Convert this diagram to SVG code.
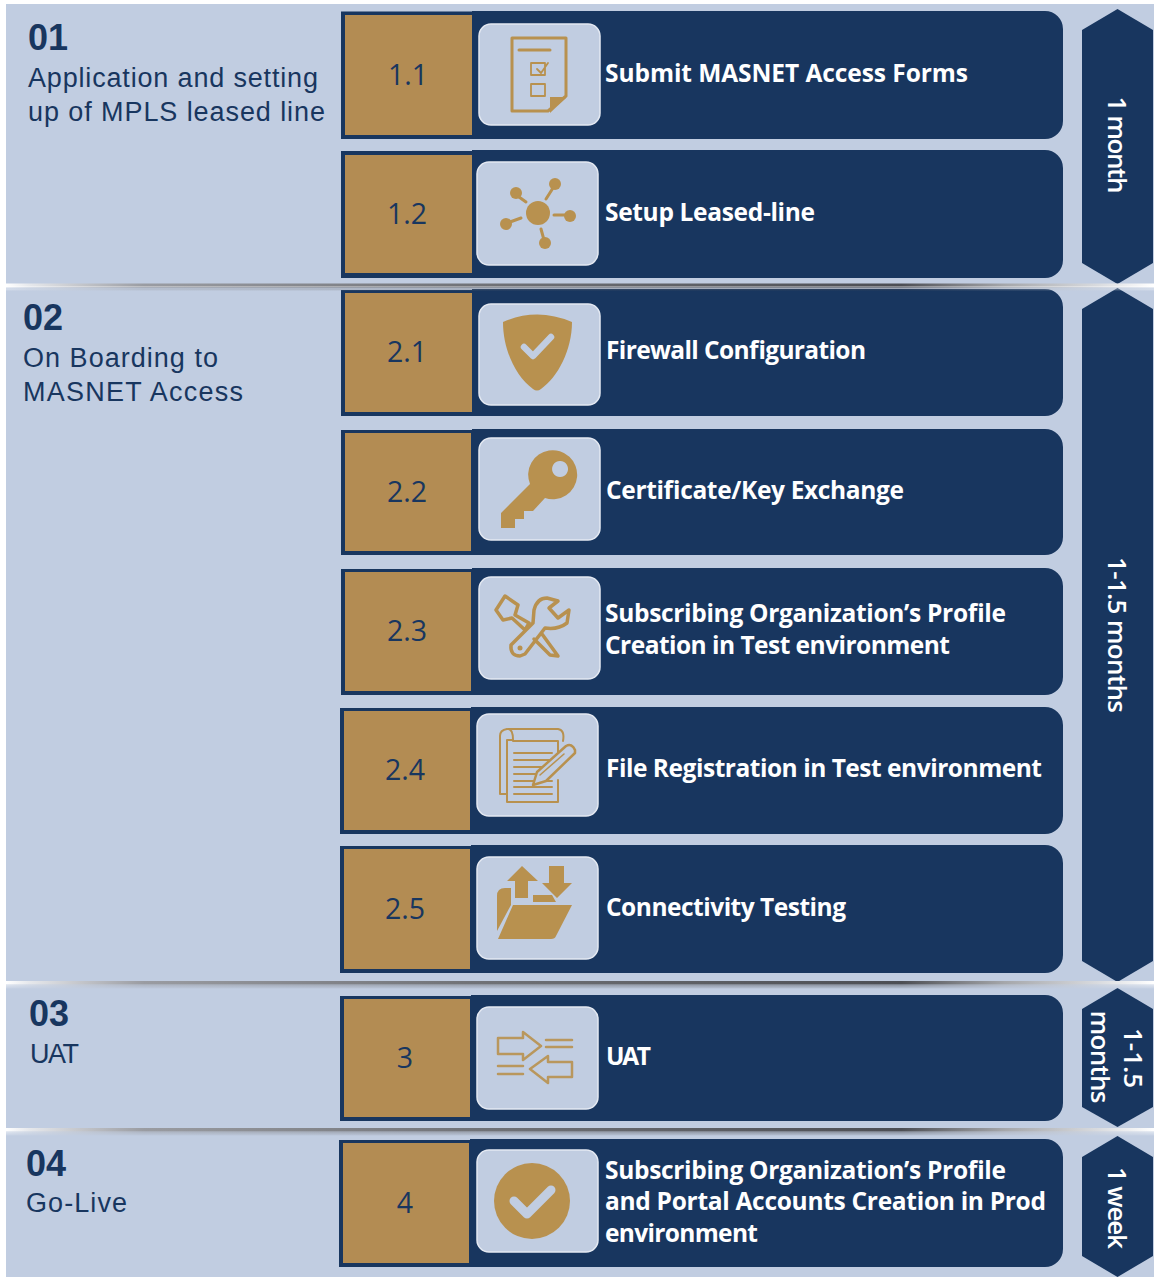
<svg xmlns="http://www.w3.org/2000/svg" width="1154" height="1277" viewBox="0 0 1154 1277">
<style>
.bg{fill:#c1cde1}
.nav{fill:#18365f}
.gold{fill:#b38c53}
.box{fill:#c1cde1;stroke:#e4e9f2;stroke-width:1.5}
.ic{fill:#b8914f}
.il{fill:none;stroke:#b8914f;stroke-width:3;stroke-linejoin:round;stroke-linecap:round}
.num{font-family:"Open Sans","Liberation Sans",sans-serif;font-size:28.500px;fill:#18365f;text-anchor:middle}
.lab{font-family:"Open Sans","Noto Sans",sans-serif;font-weight:700;font-size:24.500px;fill:#fff}
.hd{font-family:"Liberation Sans",Arial,sans-serif;font-weight:700;font-size:36px;fill:#18365f}
.sub{font-family:"Liberation Sans",Arial,sans-serif;font-size:27px;fill:#18365f}
.dur{font-family:"Open Sans","Noto Sans",sans-serif;font-weight:600;font-size:26px;fill:#fff;text-anchor:middle}
</style>
<defs>
<linearGradient id="sep" x1="0" x2="1" y1="0" y2="0"><stop offset="0" stop-color="#fff"/><stop offset=".02" stop-color="#e6e8ec"/><stop offset=".12" stop-color="#9a9ca2"/><stop offset=".4" stop-color="#717378"/><stop offset=".78" stop-color="#4c4e54"/><stop offset=".87" stop-color="#a5a7ab"/><stop offset=".95" stop-color="#d8dade"/><stop offset="1" stop-color="#fff"/></linearGradient>
<g id="sepbar">
<rect x="6" y="0" width="1148" height="3" fill="url(#sep)"/>
<rect x="6" y="3" width="1148" height="1.500" fill="url(#sep)" opacity=".6"/>
<rect x="6" y="4.500" width="1148" height="2" fill="url(#sep)" opacity=".3"/>
<rect x="6" y="6.500" width="1148" height="1" fill="url(#sep)" opacity=".12"/>
</g>
</defs>
<rect width="1154" height="1277" fill="#fff"/>
<g id="panels">
<rect class="bg" x="6" y="4" width="1148" height="280"/>
<rect class="bg" x="6" y="287" width="1148" height="694"/>
<rect class="bg" x="6" y="984" width="1148" height="144"/>
<rect class="bg" x="6" y="1131" width="1148" height="146"/>
</g>
<g id="section-01"><text class="hd" x="28" y="50">01</text><text class="sub" x="28" y="87" textLength="290">Application and setting</text><text class="sub" x="28" y="121" textLength="297">up of MPLS leased line</text></g>
<g id="section-02"><text class="hd" x="23" y="330">02</text><text class="sub" x="23" y="367" textLength="195">On Boarding to</text><text class="sub" x="23" y="401" textLength="220">MASNET Access</text></g>
<g id="section-03"><text class="hd" x="29" y="1026">03</text><text class="sub" x="30" y="1063" textLength="49">UAT</text></g>
<g id="section-04"><text class="hd" x="26" y="1176">04</text><text class="sub" x="26" y="1212" textLength="101">Go-Live</text></g>

<g id="step-1-1">
<path class="nav" d="M341 11.500H472V11H1045a18 18 0 0 1 18 18V121a18 18 0 0 1-18 18H341Z"/>
<rect class="gold" x="345" y="15" width="127" height="120"/><text class="num" x="408" y="84.500">1.1</text>
<rect class="box" x="479" y="24" width="121" height="101" rx="12"/>
<path class="il" d="M512 38H566V96L548 111H512Z"/><path class="ic" d="M566 97V98L550 113V97Z"/>
<path class="il" d="M519 50H550"/><path class="il" style="stroke-width:1.800" d="M531 63H545V75H531Z M537 69L541 73L548 63M531 84H545V96H531Z"/>
<text class="lab" x="605" y="82" textLength="363">Submit MASNET Access Forms</text>
</g>
<g id="step-1-2">
<path class="nav" d="M341 151H472V150H1045a18 18 0 0 1 18 18V260a18 18 0 0 1-18 18H341Z"/>
<rect class="gold" x="345" y="155" width="127" height="118"/><text class="num" x="407" y="223.500">1.2</text>
<rect class="box" x="477" y="162" width="121" height="103" rx="12"/>
<circle class="ic" cx="538" cy="213" r="12"/><circle class="ic" cx="516" cy="193" r="6"/><circle class="ic" cx="555" cy="184" r="6"/><circle class="ic" cx="570" cy="216" r="6"/><circle class="ic" cx="506" cy="224" r="6"/><circle class="ic" cx="545" cy="243" r="6"/>
<path class="il" d="M519 197L526 202M553 188L546 199M554 215H566M510 222L521 218M541 229L544 240"/>
<text class="lab" x="605" y="221" textLength="210">Setup Leased-line</text>
</g>
<g id="step-2-1">
<path class="nav" d="M341 290H472V289H1045a18 18 0 0 1 18 18V398a18 18 0 0 1-18 18H341Z"/>
<rect class="gold" x="345" y="293" width="127" height="119"/><text class="num" x="407" y="362">2.1</text>
<rect class="box" x="479" y="304" width="121" height="101" rx="12"/>
<path class="ic" d="M503 322Q537 307 572 322C572 350 558 377 541 389Q537 392 533 389C516 377 503 350 503 322Z"/>
<path d="M524 347L533 356L551 337" fill="none" stroke="#c1cde1" stroke-width="6.500" stroke-linecap="round" stroke-linejoin="round"/>
<text class="lab" x="606" y="359" textLength="260">Firewall Configuration</text>
</g>
<g id="step-2-2">
<path class="nav" d="M341 430H472V429H1045a18 18 0 0 1 18 18V537a18 18 0 0 1-18 18H341Z"/>
<rect class="gold" x="345" y="433" width="126" height="118"/><text class="num" x="407" y="502">2.2</text>
<rect class="box" x="479" y="438" width="121" height="102" rx="12"/>
<path class="ic" fill-rule="evenodd" d="M501 513L530 484A24.500 24.500 0 1 1 545 498L533 511H524V519H515V528H501Z M560 461a8 8 0 1 0 .1 0Z"/>
<text class="lab" x="606" y="499" textLength="298">Certificate/Key Exchange</text>
</g>
<g id="step-2-3">
<path class="nav" d="M341 569H472V568H1045a18 18 0 0 1 18 18V677a18 18 0 0 1-18 18H341Z"/>
<rect class="gold" x="345" y="572" width="126" height="119"/><text class="num" x="407" y="641">2.3</text>
<rect class="box" x="479" y="577" width="121" height="102" rx="12"/>
<path class="il" style="stroke-width:3.500" d="M496 610L505 596L518 605L515 615L529 623L525 630L512 618L503 620Z"/>
<path class="il" style="stroke-width:3.500" d="M547 598Q537 598 534 610L533 623L511 645Q510 656 520 656L525 654L545 628Q558 630 567 623L569 610L558 618L549 608L558 601Z M542 634L558 656L550 655L534 639"/>
<circle class="ic" cx="520" cy="648" r="2.500"/>
<text class="lab" x="605" y="622" textLength="401">Subscribing Organization’s Profile</text><text class="lab" x="605" y="654" textLength="345">Creation in Test environment</text>
</g>
<g id="step-2-4">
<path class="nav" d="M340 708H471V707H1045a18 18 0 0 1 18 18V816a18 18 0 0 1-18 18H340Z"/>
<rect class="gold" x="344" y="711" width="126" height="119"/><text class="num" x="405" y="780">2.4</text>
<rect class="box" x="477" y="714" width="121" height="102" rx="12"/>
<path class="il" style="stroke-width:2" d="M508 729H558Q565 730 563 741M507 729Q500 730 500 736V794H506M508 729Q513 729 513 740H507M513 741H558V752M507 740V802H558V780"/>
<path class="il" style="stroke-width:2" d="M514 753H552M514 760H552M514 767H552M514 774H552M514 781H552M514 787H552M514 794H552"/>
<path d="M537 772L566 746Q572 743 575 750V753L546 781L533 785Z" fill="#c1cde1" stroke="#b8914f" stroke-width="2.500" stroke-linejoin="round"/>
<path class="il" style="stroke-width:1.500" d="M540 775L564 754"/>
<text class="lab" x="606" y="777" textLength="436">File Registration in Test environment</text>
</g>
<g id="step-2-5">
<path class="nav" d="M340 846H471V845H1045a18 18 0 0 1 18 18V955a18 18 0 0 1-18 18H340Z"/>
<rect class="gold" x="344" y="849" width="126" height="120"/><text class="num" x="405" y="919">2.5</text>
<rect class="box" x="477" y="857" width="121" height="102" rx="12"/>
<path class="ic" d="M497 931V896Q497 888 505 888H511V905Z M498 939L513 905H572L556 936Q555 939 551 939Z M515 898V881H507L522 866L538 881H528V898Z M549 866H564V883H572L557 898L542 883H549Z M533 895H552L556 902H533Z"/>
<text class="lab" x="606" y="916" textLength="240">Connectivity Testing</text>
</g>
<g id="step-3">
<path class="nav" d="M340 996H471V995H1045a18 18 0 0 1 18 18V1103a18 18 0 0 1-18 18H340Z"/>
<rect class="gold" x="344" y="999" width="126" height="118"/><text class="num" x="405" y="1068">3</text>
<rect class="box" x="477" y="1007" width="121" height="102" rx="12"/>
<path class="il" opacity=".9" style="stroke-width:2.500" d="M498 1038H523V1032L541 1046L523 1060V1054H498Z M572 1062H548V1056L530 1069L548 1083V1077H572Z"/>
<path class="il" opacity=".9" style="stroke-width:2.500" d="M546 1040H572M546 1047H572M498 1066H523M498 1074H523"/>
<text class="lab" x="606" y="1065" textLength="45">UAT</text>
</g>
<g id="step-4">
<path class="nav" d="M339 1140H470V1139H1045a18 18 0 0 1 18 18V1249a18 18 0 0 1-18 18H339Z"/>
<rect class="gold" x="343" y="1143" width="126" height="120"/><text class="num" x="405" y="1213">4</text>
<rect class="box" x="477" y="1150" width="121" height="102" rx="12"/>
<circle class="ic" cx="532" cy="1201" r="38"/>
<path d="M514 1201L527 1214L551 1190" fill="none" stroke="#c1cde1" stroke-width="9" stroke-linecap="round" stroke-linejoin="round"/>
<text class="lab" x="605" y="1179" textLength="401">Subscribing Organization’s Profile</text><text class="lab" x="605" y="1210" textLength="441">and Portal Accounts Creation in Prod</text><text class="lab" x="605" y="1242" textLength="153">environment</text>
</g>
<g id="duration-1"><path class="nav" d="M1117.500 9L1153 30V263L1117.500 284L1082 263V30Z"/><text class="dur" textLength="97" transform="translate(1108 145) rotate(90)">1 month</text></g>
<g id="duration-2"><path class="nav" d="M1117.500 288L1153 309V961L1117.500 982L1082 961V309Z"/><text class="dur" textLength="156" transform="translate(1108 635) rotate(90)">1-1.5 months</text></g>
<g id="duration-3"><path class="nav" d="M1117.500 988L1153 1009V1107L1117.500 1127L1082 1107V1009Z"/><text class="dur" transform="translate(1124 1058) rotate(90)">1-1.5</text><text class="dur" textLength="93" transform="translate(1091 1057) rotate(90)">months</text></g>
<g id="duration-4"><path class="nav" d="M1117.500 1136L1153 1157V1256L1117.500 1277L1082 1256V1157Z"/><text class="dur" textLength="82" transform="translate(1108 1208) rotate(90)">1 week</text></g>
<g id="separators">
<use href="#sepbar" y="283.500"/>
<use href="#sepbar" y="981"/>
<use href="#sepbar" y="1128"/>
</g>
</svg>
